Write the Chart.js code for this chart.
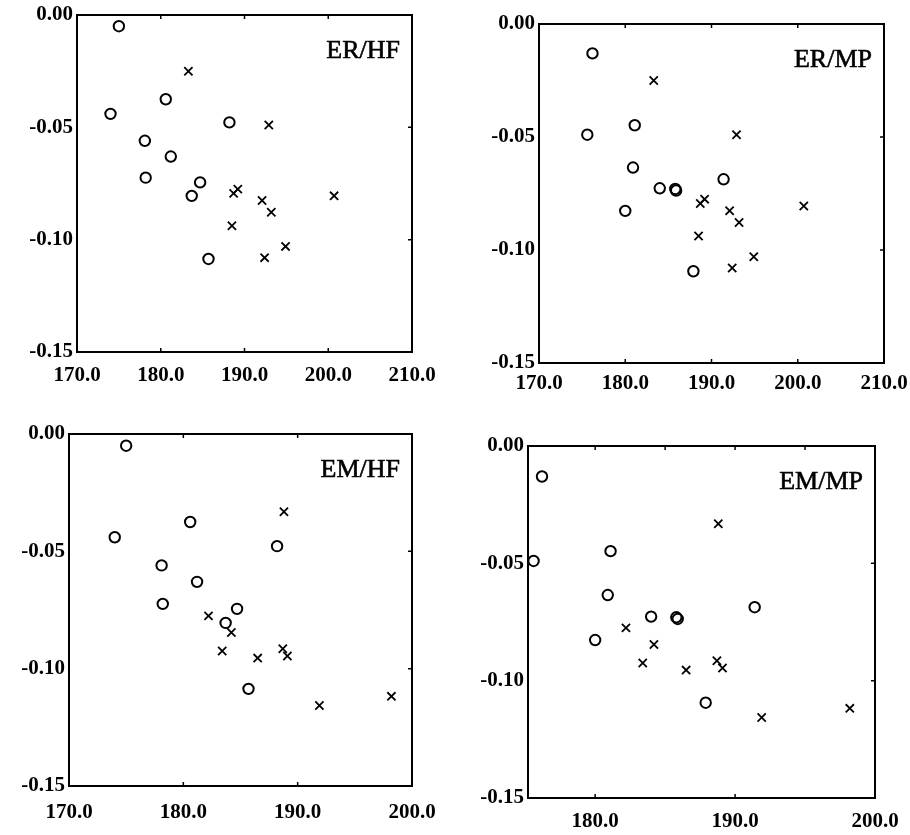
<!DOCTYPE html>
<html>
<head>
<meta charset="utf-8">
<script src="https://cdn.jsdelivr.net/npm/chart.js@4.4.1/dist/chart.umd.min.js"></script>
<style>
  body { margin: 0; background: #fff; }
  .panel { position: absolute; }
</style>
</head>
<body>
<div class="panel" style="left:0;top:0"><canvas id="c1" width="455" height="417"></canvas></div>
<div class="panel" style="left:455px;top:0"><canvas id="c2" width="455" height="417"></canvas></div>
<div class="panel" style="left:0;top:417px"><canvas id="c3" width="455" height="418"></canvas></div>
<div class="panel" style="left:455px;top:417px"><canvas id="c4" width="455" height="418"></canvas></div>
<script>
// circles: same points in ER and EM panels, x depends on HF / MP
const circleXHF = [175.0, 174.0, 180.6, 178.1, 181.2, 178.2, 188.2, 184.7, 183.7, 185.7];
const circleYHF = [-0.005, -0.044, -0.0375, -0.056, -0.063, -0.0724, -0.0478, -0.0745, -0.0805, -0.1086];
const circleXMP = [176.2, 175.6, 181.1, 180.9, 180.0, 184.0, 185.8, 185.9, 191.4, 187.9];
const circleYMP = [-0.013, -0.049, -0.0448, -0.0635, -0.0827, -0.0727, -0.073, -0.0737, -0.0687, -0.1094];
// crosses: same in HF and MP panels, differ between ER and EM
const crossXER = [183.3, 192.9, 188.7, 189.2, 192.1, 193.2, 188.5, 200.7, 194.9, 192.4];
const crossYER = [-0.025, -0.049, -0.0794, -0.0775, -0.0826, -0.0878, -0.0938, -0.0805, -0.103, -0.108];
const crossXEM = [188.8, 182.2, 184.2, 183.4, 186.5, 188.7, 189.1, 191.9, 198.2];
const crossYEM = [-0.0331, -0.0775, -0.0846, -0.0925, -0.0955, -0.0915, -0.0946, -0.1157, -0.1118];

const titles = ['ER/HF', 'ER/MP', 'EM/HF', 'EM/MP'];
const xTicksWide = [170, 180, 190, 200, 210];
const xTicksNarrow = [170, 180, 190, 200];
const xTicksMP = [180, 190, 200];
const xTopTicksMP = [180, 185, 190, 195];
const yTicks = [0, -0.05, -0.10, -0.15];

const zip = (xs, ys) => xs.map((x, i) => ({ x: x, y: ys[i] }));

// layout of each panel: chart box inside its canvas
const panels = [
  { id: 'c1', title: titles[0], xMin: 170, xMax: 210, xt: xTicksWide, xTop: [180, 190, 200],
    circ: zip(circleXHF, circleYHF), cross: zip(crossXER, crossYER),
    left: 77, top: 15, right: 43, xh: 65, pad: 11 },
  { id: 'c2', title: titles[1], xMin: 170, xMax: 210, xt: xTicksWide, xTop: [180, 190, 200],
    circ: zip(circleXMP, circleYMP), cross: zip(crossXER, crossYER),
    left: 84, top: 24, right: 26, xh: 54, pad: 8 },
  { id: 'c3', title: titles[2], xMin: 170, xMax: 200, xt: xTicksNarrow, xTop: [180, 190],
    circ: zip(circleXHF, circleYHF), cross: zip(crossXEM, crossYEM),
    left: 69, top: 17, right: 43, xh: 49, pad: 14 },
  { id: 'c4', title: titles[3], xMin: 175.2, xMax: 200, xt: xTicksMP, xTop: xTopTicksMP,
    circ: zip(circleXMP, circleYMP), cross: zip(crossXEM, crossYEM),
    left: 73, top: 29, right: 35, xh: 37, pad: 11 }
];

const FONT = "'Liberation Serif', 'DejaVu Serif', serif";
const INK = '#000';

const framePlugin = {
  id: 'frame',
  afterDraw(chart) {
    const ctx = chart.ctx, a = chart.chartArea, p = chart.options.plugins.frame;
    const xs = chart.scales.x, ys = chart.scales.y;
    ctx.save();
    ctx.strokeStyle = INK;
    ctx.lineWidth = 2;
    ctx.strokeRect(a.left, a.top, a.right - a.left, a.bottom - a.top);
    ctx.lineWidth = 1.5;
    ctx.beginPath();
    p.bottomTicks.forEach(v => {
      const px = xs.getPixelForValue(v);
      if (px > a.left + 2 && px < a.right - 2) { ctx.moveTo(px, a.bottom); ctx.lineTo(px, a.bottom - 4); }
    });
    p.topTicks.forEach(v => {
      const px = xs.getPixelForValue(v);
      ctx.moveTo(px, a.top); ctx.lineTo(px, a.top + 4);
    });
    [-0.05, -0.10].forEach(v => {
      const py = ys.getPixelForValue(v);
      ctx.moveTo(a.right, py); ctx.lineTo(a.right - 4, py);
    });
    ctx.stroke();
    ctx.fillStyle = INK;
    ctx.font = '26px ' + FONT;
    ctx.textAlign = 'right';
    ctx.textBaseline = 'middle';
    ctx.lineWidth = 0.6;
    ctx.fillText(p.title, a.right - 12, a.top + 36);
    ctx.strokeText(p.title, a.right - 12, a.top + 36);
    ctx.restore();
  }
};

panels.forEach(pn => {
  const tickFont = { family: FONT, size: 21, weight: 'bold' };
  new Chart(document.getElementById(pn.id), {
    type: 'scatter',
    data: {
      datasets: [
        { data: pn.circ, pointStyle: 'circle', pointRadius: 5.2, borderWidth: 2,
          borderColor: INK, backgroundColor: 'rgba(0,0,0,0)', clip: false },
        { data: pn.cross, pointStyle: 'crossRot', pointRadius: 5.8, borderWidth: 1.8,
          borderColor: INK, backgroundColor: INK, clip: false }
      ]
    },
    options: {
      responsive: false,
      animation: false,
      events: [],
      layout: { padding: { left: 0, top: pn.top, right: pn.right, bottom: 0 } },
      plugins: {
        legend: { display: false },
        tooltip: { enabled: false },
        frame: { title: pn.title, bottomTicks: pn.xt, topTicks: pn.xTop }
      },
      scales: {
        x: {
          type: 'linear', position: 'bottom', min: pn.xMin, max: pn.xMax,
          grid: { display: false, drawTicks: false },
          border: { display: false },
          ticks: {
            color: INK, padding: pn.pad, autoSkip: false, maxRotation: 0,
            font: tickFont,
            callback: v => v.toFixed(1)
          },
          afterBuildTicks: sc => { sc.ticks = pn.xt.map(v => ({ value: v })); },
          afterFit: sc => { sc.height = pn.xh; sc.paddingLeft = 0; sc.paddingRight = 0; }
        },
        y: {
          type: 'linear', position: 'left', min: -0.15, max: 0,
          grid: { display: false, drawTicks: false },
          border: { display: false },
          ticks: {
            color: INK, padding: 4, autoSkip: false,
            font: tickFont,
            callback: v => v.toFixed(2)
          },
          afterBuildTicks: sc => { sc.ticks = yTicks.map(v => ({ value: v })); },
          afterFit: sc => { sc.width = pn.left; sc.paddingTop = 0; sc.paddingBottom = 0; }
        }
      }
    },
    plugins: [framePlugin]
  });
});
</script>
</body>
</html>
